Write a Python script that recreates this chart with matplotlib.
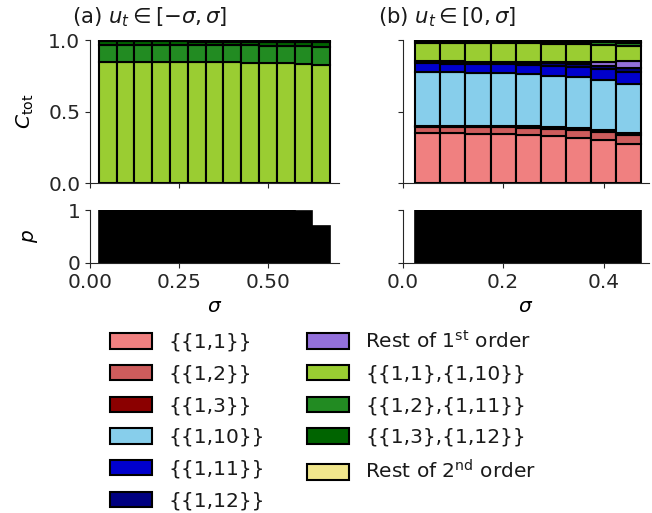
import matplotlib
matplotlib.use("Agg")
import matplotlib.pyplot as plt
import numpy as np

plt.rcParams['font.family'] = ['DejaVu Sans']
plt.rcParams['font.size'] = 14.5
plt.rcParams['axes.edgecolor'] = '0.15'
plt.rcParams['xtick.color'] = '0.15'
plt.rcParams['ytick.color'] = '0.15'
plt.rcParams['text.color'] = '0.1'

# ---------------- data ----------------
labels = [r"{{1,1}}", r"{{1,2}}", r"{{1,3}}", r"{{1,10}}", r"{{1,11}}", r"{{1,12}}",
          r"Rest of 1$^{\mathrm{st}}$ order",
          r"{{1,1},{1,10}}", r"{{1,2},{1,11}}", r"{{1,3},{1,12}}",
          r"Rest of 2$^{\mathrm{nd}}$ order"]
colors = ["lightcoral", "indianred", "darkred", "skyblue", "mediumblue", "navy",
          "mediumpurple", "yellowgreen", "forestgreen", "darkgreen", "khaki"]

# panel (a): u_t in [-sigma, sigma]
sigma_a = [0.05, 0.10, 0.15, 0.20, 0.25, 0.30, 0.35, 0.40, 0.45, 0.50, 0.55, 0.60, 0.65]
a_11 = [0.0] * 13
a_12 = [0.0] * 13
a_13 = [0.0] * 13
a_110 = [0.0] * 13
a_111 = [0.0] * 13
a_112 = [0.0] * 13
a_rest1 = [0.0] * 13
a_11_110 = [0.845, 0.845, 0.845, 0.845, 0.845, 0.844, 0.844, 0.843, 0.842, 0.840, 0.838, 0.835, 0.828]
a_12_111 = [0.121, 0.121, 0.121, 0.121, 0.120, 0.120, 0.120, 0.120, 0.120, 0.121, 0.121, 0.122, 0.125]
a_13_112 = [0.024, 0.024, 0.024, 0.024, 0.025, 0.025, 0.025, 0.026, 0.026, 0.026, 0.027, 0.028, 0.030]
a_rest2 = [0.008, 0.008, 0.008, 0.008, 0.008, 0.009, 0.009, 0.009, 0.009, 0.009, 0.010, 0.010, 0.011]
p_a = [1.0, 1.0, 1.0, 1.0, 1.0, 1.0, 1.0, 1.0, 1.0, 1.0, 1.0, 0.99, 0.70]

# panel (b): u_t in [0, sigma]
sigma_b = [0.05, 0.10, 0.15, 0.20, 0.25, 0.30, 0.35, 0.40, 0.45]
b_11 = [0.349, 0.348, 0.346, 0.343, 0.338, 0.328, 0.318, 0.300, 0.277]
b_12 = [0.046, 0.046, 0.047, 0.048, 0.050, 0.053, 0.055, 0.058, 0.060]
b_13 = [0.008, 0.008, 0.008, 0.008, 0.009, 0.009, 0.010, 0.012, 0.017]
b_110 = [0.376, 0.374, 0.371, 0.368, 0.363, 0.361, 0.357, 0.351, 0.337]
b_111 = [0.058, 0.060, 0.062, 0.064, 0.068, 0.070, 0.074, 0.077, 0.088]
b_112 = [0.013, 0.013, 0.013, 0.014, 0.014, 0.016, 0.018, 0.021, 0.026]
b_rest1 = [0.000, 0.001, 0.002, 0.003, 0.005, 0.010, 0.017, 0.030, 0.048]
b_11_110 = [0.132, 0.131, 0.131, 0.131, 0.131, 0.126, 0.121, 0.116, 0.102]
b_12_111 = [0.010, 0.010, 0.011, 0.011, 0.011, 0.014, 0.016, 0.018, 0.022]
b_13_112 = [0.005, 0.005, 0.005, 0.005, 0.005, 0.006, 0.007, 0.008, 0.012]
b_rest2 = [0.003, 0.003, 0.003, 0.004, 0.005, 0.006, 0.006, 0.008, 0.010]
p_b = [1.0, 1.0, 1.0, 1.0, 1.0, 1.0, 1.0, 1.0, 1.0]

series_a = [a_11, a_12, a_13, a_110, a_111, a_112, a_rest1, a_11_110, a_12_111, a_13_112, a_rest2]
series_b = [b_11, b_12, b_13, b_110, b_111, b_112, b_rest1, b_11_110, b_12_111, b_13_112, b_rest2]

width = 0.05

W, H = 652, 513
fig = plt.figure(figsize=(W / 100, H / 100), dpi=100)

def ax_px(x0, x1, ytop, ybot):
    return fig.add_axes([x0 / W, 1 - ybot / H, (x1 - x0) / W, (ybot - ytop) / H])

axA = ax_px(90, 339, 40, 183.3)
axB = ax_px(402.7, 648.7, 40, 183.3)
axAp = ax_px(90, 339, 210, 263)
axBp = ax_px(402.7, 648.7, 210, 263)

def stack(ax, xs, series):
    bottom = np.zeros(len(xs))
    handles = []
    for vals, col, lab in zip(series, colors, labels):
        vals = np.array(vals)
        h = ax.bar(xs, vals, width=width, bottom=bottom, color=col, edgecolor='black',
                   linewidth=1.5, label=lab)
        handles.append(h)
        bottom = bottom + vals
    return handles

stack(axA, sigma_a, series_a)
handles = stack(axB, sigma_b, series_b)

axAp.bar(sigma_a, p_a, width=width, color='black', edgecolor='black', linewidth=1.2)
axBp.bar(sigma_b, p_b, width=width, color='black', edgecolor='black', linewidth=1.2)

for ax in (axA, axB, axAp, axBp):
    ax.spines['top'].set_visible(False)
    ax.spines['right'].set_visible(False)
    ax.set_ylim(0, 1)

for ax in (axA, axAp):
    ax.set_xlim(0, 0.7)
    ax.set_xticks([0.0, 0.25, 0.5])
for ax in (axB, axBp):
    ax.set_xlim(0, 0.49)
    ax.set_xticks([0.0, 0.2, 0.4])

axAp.set_xticklabels(['0.00', '0.25', '0.50'])
axBp.set_xticklabels(['0.0', '0.2', '0.4'])
axA.set_xticklabels([])
axB.set_xticklabels([])

axA.set_yticks([0.0, 0.5, 1.0])
axA.set_yticklabels(['0.0', '0.5', '1.0'])
axB.set_yticks([0.0, 0.5, 1.0])
axB.set_yticklabels([])
axAp.set_yticks([0, 1])
axAp.set_yticklabels(['0', '1'])
axBp.set_yticks([0, 1])
axBp.set_yticklabels([])

axA.set_ylabel(r"$C_{\mathrm{tot}}$")
axAp.set_ylabel(r"$p$")
axA.yaxis.set_label_coords(-0.215, 0.5)
axAp.yaxis.set_label_coords(-0.2, 0.5)
axAp.set_xlabel(r"$\sigma$")
axBp.set_xlabel(r"$\sigma$")

fig.text(72 / W, 1 - 17 / H, r"(a) $u_t\in[-\sigma,\sigma]$", ha='left', va='center', fontsize=15.3)
fig.text(378 / W, 1 - 17 / H, r"(b) $u_t\in[0,\sigma]$", ha='left', va='center', fontsize=15.3)

fig.legend(handles=handles, labels=labels, ncol=2, frameon=False,
           loc='upper left', bbox_to_anchor=(110 / W, 1 - 330 / H),
           handlelength=2.1, handleheight=0.8, handletextpad=0.8,
           columnspacing=2.1, labelspacing=0.63, borderaxespad=0, borderpad=0)

fig.savefig("out.png", dpi=100)
